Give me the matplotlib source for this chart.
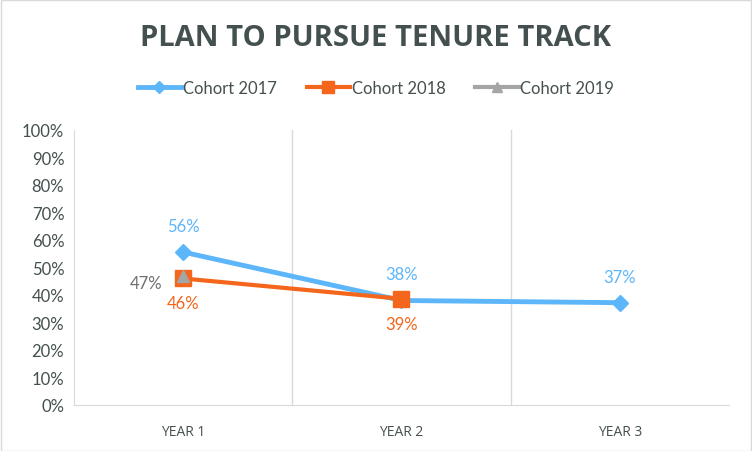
import matplotlib.pyplot as plt
from matplotlib.ticker import PercentFormatter

# Données
years = ["YEAR 1", "YEAR 2", "YEAR 3"]
cohort_2017 = [55.6, 38.0, 37.2]
cohort_2018 = [46.0, 38.6]
cohort_2019 = [47.0]
labels_2017 = ["56%", "38%", "37%"]
labels_2018 = ["46%", "39%"]
labels_2019 = ["47%"]

blue = "#5DB6FA"
orange = "#F4661B"
gray = "#A5A5A5"
text_col = "#44504F"
grid_col = "#D9D9D9"

plt.rcParams["font.family"] = ["Lato", "DejaVu Sans"]

fig = plt.figure(figsize=(7.52, 4.52), dpi=100)
ax = fig.add_axes([0.0984, 0.1018, 0.8710, 0.6084])

x = list(range(len(years)))
ax.plot(x[:len(cohort_2017)], cohort_2017, color=blue, lw=3.5, marker="D",
        ms=8, label="Cohort 2017", zorder=3)
ax.plot(x[:len(cohort_2018)], cohort_2018, color=orange, lw=3.0, marker="s",
        ms=11, label="Cohort 2018", zorder=4)
ax.plot(x[:len(cohort_2019)], cohort_2019, color=gray, lw=3.0, marker="^",
        ms=9, label="Cohort 2019", zorder=5)

# Étiquettes de données
for xi, v, lab in zip(x, cohort_2017, labels_2017):
    ax.annotate(lab, (xi, v), xytext=(0, 13), textcoords="offset points",
                ha="center", va="bottom", color=blue, fontsize=12)
for xi, v, lab in zip(x, cohort_2018, labels_2018):
    ax.annotate(lab, (xi, v), xytext=(0, -12), textcoords="offset points",
                ha="center", va="top", color=orange, fontsize=12)
for xi, v, lab in zip(x, cohort_2019, labels_2019):
    ax.annotate(lab, (xi, v), xytext=(-15, -5), textcoords="offset points",
                ha="right", va="center", color="#6E6E6E", fontsize=12)

ax.set_xlim(-0.5, len(years) - 0.5)
ax.set_ylim(0, 100)
ax.set_yticks(range(0, 101, 10))
ax.yaxis.set_major_formatter(PercentFormatter(decimals=0))
ax.set_xticks(x)
ax.set_xticklabels(years, family=["Open Sans", "DejaVu Sans"])

# Séparateurs verticaux entre catégories
for b in [0.5, 1.5]:
    ax.axvline(b, color=grid_col, lw=1, zorder=1)

for side in ["top", "right"]:
    ax.spines[side].set_visible(False)
for side in ["left", "bottom"]:
    ax.spines[side].set_color(grid_col)
ax.tick_params(axis="y", length=0, labelsize=12, labelcolor=text_col, pad=7)
ax.tick_params(axis="x", length=0, labelsize=10, labelcolor=text_col, pad=14)

fig.text(0.5, 0.915, "PLAN TO PURSUE TENURE TRACK", ha="center", va="center",
         fontsize=21, fontweight="bold", color=text_col,
         family=["Open Sans", "DejaVu Sans"])

fig.legend(loc="center", bbox_to_anchor=(0.5, 0.803), ncol=3, frameon=False,
           fontsize=12, labelcolor=text_col, handlelength=2.6,
           handletextpad=0.1, columnspacing=1.8, markerscale=0.8)

# Cadre de la figure
fig.patches.append(plt.Rectangle((0.001, 0.001), 0.998, 0.997,
                                 transform=fig.transFigure, fill=False,
                                 edgecolor=grid_col, lw=1))

fig.savefig("out.png", dpi=100)
